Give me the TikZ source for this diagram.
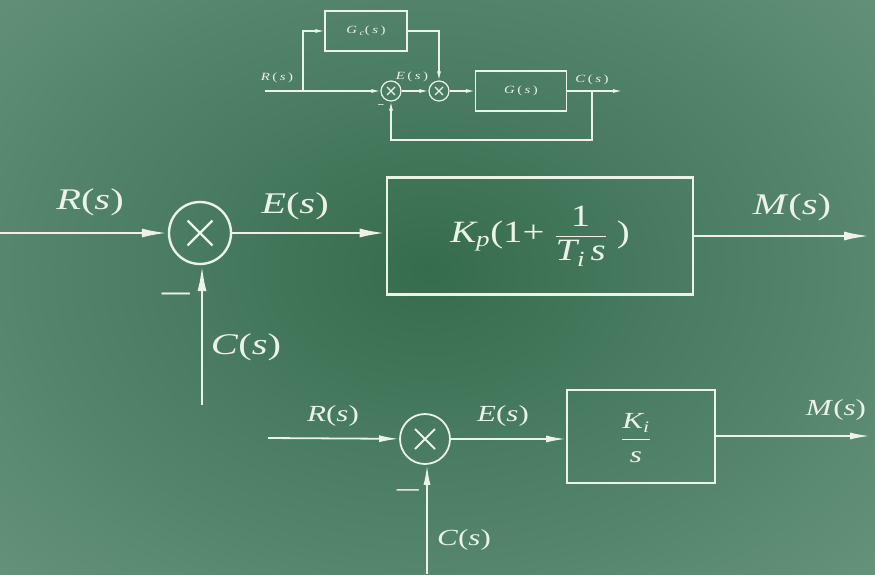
\documentclass[tikz,border=0pt]{standalone}
\usepackage{amsmath}
\usepackage{graphicx}
\usepackage{fontspec}
\setmainfont{Liberation Serif}
\usetikzlibrary{arrows.meta,calc}
\definecolor{boardgreen}{RGB}{54,108,78}
\definecolor{boardlight}{RGB}{102,148,124}
\definecolor{chalk}{RGB}{236,242,230}
\newcommand{\chalkwide}[1]{\scalebox{1.35}[1]{#1}}
\tikzset{
  sumnode/.style={circle,draw=chalk,inner sep=0pt,minimum size=#1,
    path picture={
      \draw[chalk] ($(path picture bounding box.south west)!0.3!(path picture bounding box.north east)$)
        -- ($(path picture bounding box.south west)!0.7!(path picture bounding box.north east)$);
      \draw[chalk] ($(path picture bounding box.north west)!0.3!(path picture bounding box.south east)$)
        -- ($(path picture bounding box.north west)!0.7!(path picture bounding box.south east)$);}},
  sumnode/.default=20pt,
  block/.style={draw=chalk,inner sep=0pt},
  label/.style={text=chalk,inner sep=0pt},
  bigline/.style={chalk,line width=2.6pt,-{Latex[length=26pt,width=9pt]}},
  midline/.style={chalk,line width=1.8pt,-{Latex[length=20pt,width=7pt]}},
  smallline/.style={chalk,line width=1.2pt,-{Latex[length=9pt,width=4pt]}}
}
\begin{document}
\begin{tikzpicture}[x=1pt,y=-1pt]
\useasboundingbox (0,0) rectangle (875,574);
\clip (0,0) rectangle (875,574);
% board background
\fill[boardlight] (0,0) rectangle (875,574);
\shade[inner color=boardgreen,outer color=boardlight] (430,270) ellipse [x radius=640,y radius=460];

% small diagram on top
\begin{scope}[every node/.append style={font=\fontsize{11}{13}\selectfont}]
\node[sumnode=20pt,line width=1.2pt] (sumC1) at (391,91) {};
\node[sumnode=20pt,line width=1.2pt] (sumC2) at (439,91) {};
\node[block,line width=1.2pt,minimum width=82pt,minimum height=40pt] (gc) at (366,31) {};
\node[label] at (gc) {\chalkwide{\textit{G}\,$_{\textit{c}}$(\,\textit{s}\,)}};
\node[block,line width=1.2pt,minimum width=91pt,minimum height=40pt] (g) at (521,91) {};
\node[label] at (g) {\chalkwide{\textit{G}\,(\,\textit{s}\,)}};
\coordinate (inC) at (265,91);
\coordinate (brC) at (303,91);
\coordinate (tapC) at (592,91);
\coordinate (outC) at (622,91);
\coordinate (fbC) at (391,140);
\draw[smallline] (inC) -- (sumC1);
\draw[smallline] (brC) |- (gc);
\draw[smallline] (gc) -| (sumC2);
\draw[smallline] (sumC1) -- (sumC2);
\draw[smallline] (sumC2) -- (g);
\draw[smallline] (g) -- (outC);
\draw[smallline] (tapC) |- (fbC) -- (sumC1);
\node[label] (rC) at (277,78) {\chalkwide{\textit{R}\,(\,\textit{s}\,)}};
\node[label] (eC) at (412,77) {\chalkwide{\textit{E}\,(\,\textit{s}\,)}};
\node[label] (cC) at (592,80) {\chalkwide{\textit{C}\,(\,\textit{s}\,)}};
\node[label] (mC) at (381,106) {\textbf{–}};
\end{scope}

% main PI diagram
\begin{scope}[every node/.append style={font=\fontsize{30}{34}\selectfont}]
\node[sumnode=62pt,line width=2.4pt] (sumA) at (200,233) {};
\node[block,line width=2.6pt,minimum width=306pt,minimum height=117pt] (pi) at (540,236) {};
\node[label,font=\fontsize{31}{34}\selectfont] at (540,236)
  {\scalebox{1.25}[1]{$\textit{K}_{\textit{p}}\text{(1+ }\dfrac{\text{1}}{\textit{T}_{\textit{i}}\,\textit{s}}\text{ )}$}};
\coordinate (inA) at (0,233);
\coordinate (outA) at (870,236);
\coordinate (fbA) at (202,405);
\draw[bigline] (inA) -- (sumA);
\draw[bigline] (sumA.east) -- (sumA.east -| pi.west);
\draw[bigline] (pi) -- (outA);
\draw[bigline] (fbA) -- (fbA |- sumA.south);
\node[label] (rA) at (90,202) {\chalkwide{\textit{R}(\textit{s})}};
\node[label] (eA) at (295,206) {\chalkwide{\textit{E}(\textit{s})}};
\node[label] (mA) at (792,207) {\chalkwide{\textit{M}(\textit{s})}};
\node[label] (cA) at (246,347) {\chalkwide{\textit{C}(\textit{s})}};
\node[label,font=\fontsize{28}{32}\selectfont] (minusA) at (176,297) {\textbf{—}};
\end{scope}

% integral diagram at the bottom
\begin{scope}[every node/.append style={font=\fontsize{23}{27}\selectfont}]
\node[sumnode=50pt,line width=1.8pt] (sumB) at (425,439) {};
\node[block,line width=2pt,minimum width=148pt,minimum height=93pt] (ki) at (641,436) {};
\node[label] at (636,438) {\chalkwide{$\dfrac{\textit{K}_{\textit{i}}}{\textit{s}}$}};
\coordinate (inB) at (268,438);
\coordinate (outB) at (870,436);
\coordinate (fbB) at (427,574);
\draw[midline] (inB) -- (sumB);
\draw[midline] (sumB.east) -- (sumB.east -| ki.west);
\draw[midline] (ki.east |- outB) -- (outB);
\draw[midline] (fbB) -- (fbB |- sumB.south);
\node[label] (rB) at (333,416) {\chalkwide{\textit{R}(\textit{s})}};
\node[label] (eB) at (503,416) {\chalkwide{\textit{E}(\textit{s})}};
\node[label] (mB) at (836,410) {\chalkwide{\textit{M}(\textit{s})}};
\node[label] (cB) at (464,540) {\chalkwide{\textit{C}(\textit{s})}};
\node[label,font=\fontsize{22}{26}\selectfont] (minusB) at (408,493) {\textbf{—}};
\end{scope}
\end{tikzpicture}
\end{document}
